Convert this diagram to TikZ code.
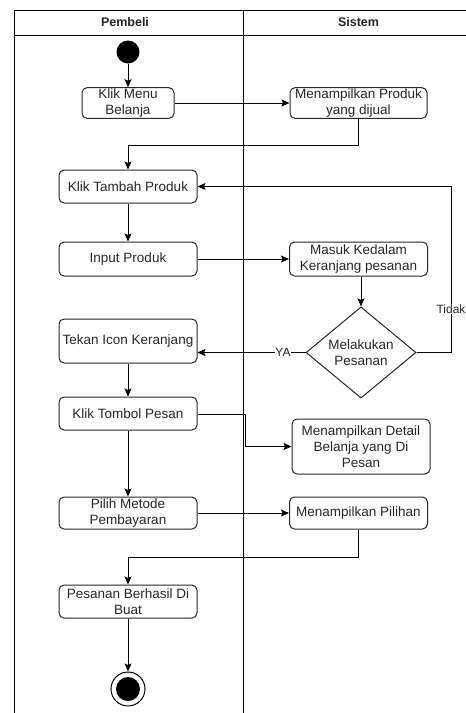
\documentclass[tikz,border=0pt]{standalone}
\usepackage{fontspec}
\setmainfont{Liberation Sans}
\usetikzlibrary{arrows.meta,shapes.geometric,calc}
\begin{document}
\begin{tikzpicture}[x=1pt,y=-1pt,
  font=\fontsize{13.5}{16}\selectfont,
  act/.style={draw=black!85, line width=1pt, rounded corners=5pt, align=center, inner sep=1pt, text=black!85, minimum width=138pt},
  flow/.style={draw=black, line width=1pt, -{Stealth[length=8pt,width=7pt,inset=1.5pt]}},
  lane/.style={draw=black, line width=1pt},
  lbl/.style={fill=white, inner sep=0.5pt, text=black!85, font=\fontsize{12}{13}\selectfont}
]
\useasboundingbox (0,0) rectangle (466,713);
% swimlanes
\coordinate (tl) at (14,10);
\coordinate (tr) at (466,10);
\coordinate (hl) at (14,35);
\coordinate (hr) at (466,35);
\coordinate (bl) at (14,713);
\coordinate (mt) at (243,10);
\coordinate (mb) at (243,713);
\draw[lane] (bl) -- (tl) -- (tr);
\draw[lane] (hl) -- (hr);
\draw[lane] (mt) -- (mb);
\node[font=\fontsize{12.5}{14}\selectfont\bfseries, text=black!85] (h1) at (125,22.5) {Pembeli};
\node[font=\fontsize{12.5}{14}\selectfont\bfseries, text=black!85] (h2) at (358.5,22.5) {Sistem};

% nodes
\node[circle, fill=black, minimum size=23pt, inner sep=0pt] (start) at (128,52) {};
\node[act, minimum width=92pt, minimum height=30pt] (n1) at (128,103) {Klik Menu\\Belanja};
\node[act, minimum width=137pt, minimum height=30pt] (n2) at (358.5,103) {Menampilkan Produk\\yang dijual};
\node[act, minimum height=33pt] (n3) at (128,186.5) {Klik Tambah Produk};
\node[act, minimum height=34pt] (n4) at (128,259) {Input Produk};
\node[act, minimum height=34pt] (n5) at (358.5,259) {Masuk Kedalam\\Keranjang pesanan};
\node[diamond, draw=black!85, line width=1pt, minimum width=110pt, minimum height=89pt, inner sep=0pt, align=center, text=black!85] (d) at (361,352.5) {Melakukan\\Pesanan};
\node[act, minimum height=44pt] (n6) at (128,341) {Tekan Icon Keranjang};
\node[act, minimum height=33pt] (n7) at (128,413.5) {Klik Tombol Pesan};
\node[act, minimum height=55pt] (n8) at (361,446.5) {Menampilkan Detail\\Belanja yang Di\\Pesan};
\node[act, minimum height=32pt] (n9) at (128,513) {Pilih Metode\\Pembayaran};
\node[act, minimum height=32pt] (n10) at (358.5,513) {Menampilkan Pilihan};
\node[act, minimum height=33pt] (n11) at (128,601.5) {Pesanan Berhasil Di\\Buat};
\node[circle, draw=black, line width=1pt, minimum size=34pt, inner sep=0pt] (end) at (128,689) {};
\node[circle, fill=black, minimum size=24pt, inner sep=0pt] (endin) at (end) {};

% connectors
\draw[flow] (start.south) -- (start.south |- n1.north);
\draw[flow] (n1.east) -- (n1.east -| n2.west);
\draw[flow] (n2.south) -- (n2.south |- 0,145) -- (n3.north |- 0,145) -- (n3.north);
\coordinate (tk) at (451,352.5);
\draw[flow] (d.east) -- (tk) -- (tk |- n3.east) -- (n3.east);
\node[lbl] (tidak) at (451,309) {Tidak};
\draw[flow] (n3.south) -- (n4.north);
\draw[flow] (n4.east) -- (n4.east -| n5.west);
\draw[flow] (d.north |- n5.south) -- (d.north);
\draw[flow] (d.west) -- (d.west -| n6.east);
\node[lbl] (ya) at (283,352.5) {YA};
\draw[flow] (n6.south) -- (n7.north);
\coordinate (kt) at (245,414);
\draw[flow] (n7.east |- kt) -- (kt) -- (kt |- n8.west) -- (n8.west);
\draw[flow] (n7.south) -- (n9.north);
\draw[flow] (n9.east) -- (n9.east -| n10.west);
\draw[flow] (n10.south) -- (n10.south |- 0,557) -- (n11.north |- 0,557) -- (n11.north);
\draw[flow] (n11.south) -- (end.north);
\end{tikzpicture}
\end{document}
